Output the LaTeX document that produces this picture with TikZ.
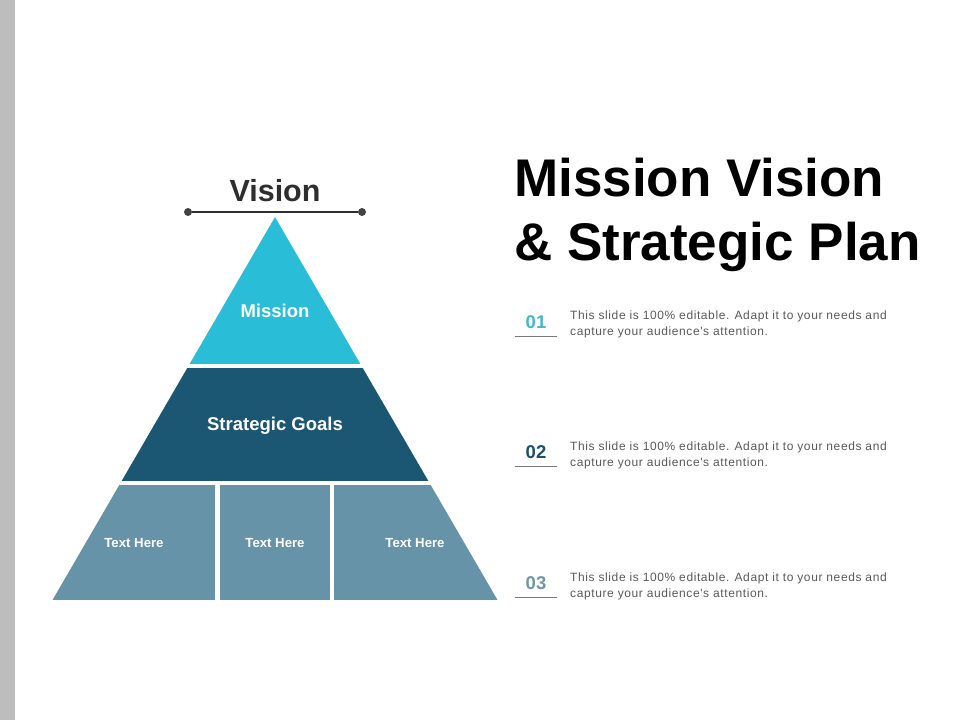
\documentclass[tikz,border=0pt]{standalone}
\usepackage{fontspec}
\setmainfont{Liberation Sans}
\newfontfamily\spacedfont[LetterSpace=5]{Liberation Sans}
\usetikzlibrary{calc}

\definecolor{sidegray}{HTML}{BDBDBD}
\definecolor{missioncyan}{HTML}{2ABDD7}
\definecolor{goalsblue}{HTML}{1B5672}
\definecolor{baseblue}{HTML}{6693A7}
\definecolor{darktext}{HTML}{2E2E2E}
\definecolor{bodytext}{HTML}{595959}
\definecolor{numcyan}{HTML}{45B7CC}
\definecolor{numblue}{HTML}{1F4E6B}
\definecolor{numgray}{HTML}{6F96A8}

\tikzset{
    label/.style={text=white, font=\bfseries\fontsize{18.5}{22}\selectfont},
    small label/.style={text=white, font=\bfseries\fontsize{13.2}{15}\selectfont},
    num/.style={font=\bfseries\fontsize{18.5}{22}\selectfont},
    body/.style={text=bodytext, anchor=west, align=left, inner sep=0pt,
        font=\spacedfont\fontsize{12}{16}\selectfont},
    dot/.style={circle, fill=darktext!90, inner sep=0pt, minimum size=8pt},
}

\begin{document}
\begin{tikzpicture}[x=1pt, y=-1pt]
        \useasboundingbox (0,0) rectangle (960,720);
        \fill[sidegray] (0,0) rectangle (15,720);

        % pyramid
        \begin{scope}
            \clip (275,217) -- (52.5,600) -- (497.5,600) -- cycle;
            \fill[missioncyan] (0,200) rectangle (960,364);
            \fill[goalsblue]   (0,368) rectangle (960,481);
            \fill[baseblue]    (0,485) rectangle (215,600);
            \fill[baseblue]    (220,485) rectangle (330,600);
            \fill[baseblue]    (334,485) rectangle (960,600);
        \end{scope}

        \node[label]       (mission) at (275,311) {Mission};
        \node[label]       (goals)   at (275,426) {Strategic Goals};
        \node[small label] (t1)      at (134,543) {Text Here};
        \node[small label] (t2)      at (275,543) {Text Here};
        \node[small label] (t3)      at (415,543) {Text Here};

        % vision bar
        \node[text=darktext, font=\bfseries\fontsize{30.5}{34}\selectfont] (vision) at (275,191) {Vision};
        \node[dot] (vl) at (188,212) {};
        \node[dot] (vr) at (362,212) {};
        \draw[darktext, line width=1.3pt] (vl) -- (vr);

        % title
        \node[anchor=west, inner sep=0pt, align=left, font=\bfseries\fontsize{53}{64}\selectfont] (title) at (514,215)
            {Mission Vision\\\& Strategic Plan};

        % points
        \node[num, text=numcyan] (n1) at (536,322) {01};
        \node[num, text=numblue] (n2) at (536,452) {02};
        \node[num, text=numgray] (n3) at (536,583) {03};
        \draw[bodytext!80, line width=0.8pt] ($(n1)+(-21,14)$) -- ($(n1)+(21,14)$);
        \draw[bodytext!80, line width=0.8pt] ($(n2)+(-21,14)$) -- ($(n2)+(21,14)$);
        \draw[bodytext!80, line width=0.8pt] ($(n3)+(-21,14)$) -- ($(n3)+(21,14)$);

        \node[body] (p1) at (570,324) {This slide is 100\% editable. Adapt it to your needs and\\capture your audience's attention.};
        \node[body] (p2) at (570,455) {This slide is 100\% editable. Adapt it to your needs and\\capture your audience's attention.};
        \node[body] (p3) at (570,586) {This slide is 100\% editable. Adapt it to your needs and\\capture your audience's attention.};

    \end{tikzpicture}
\end{document}
